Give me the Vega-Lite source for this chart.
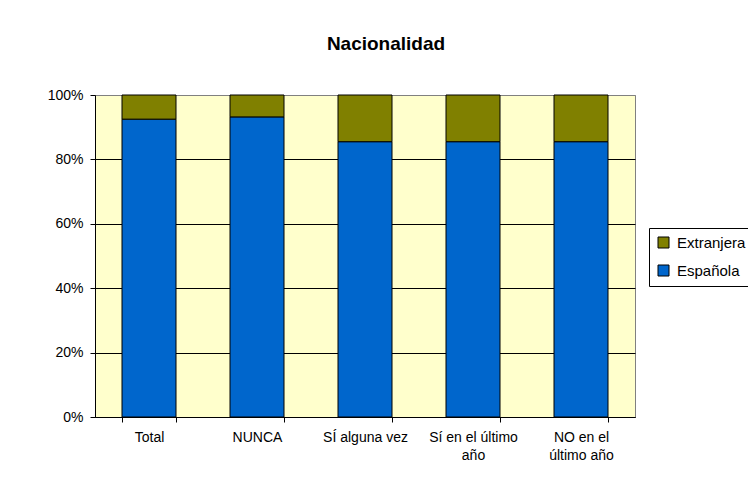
{
  "$schema": "https://vega.github.io/schema/vega-lite/v6.json",
  "width": 540,
  "height": 322,
  "autosize": {"type": "none"},
  "padding": {"left": 95, "top": 95, "right": 113, "bottom": 63},
  "background": "white",
  "title": {
    "text": "Nacionalidad",
    "font": "Liberation Sans",
    "fontSize": 19,
    "fontWeight": "bold",
    "color": "black",
    "anchor": "middle",
    "baseline": "alphabetic",
    "offset": 19,
    "dx": 21
  },
  "data": {
    "values": [
      {"grupo": "Total", "nacionalidad": "Española", "pct": 0.925},
      {"grupo": "Total", "nacionalidad": "Extranjera", "pct": 0.075},
      {"grupo": "NUNCA", "nacionalidad": "Española", "pct": 0.932},
      {"grupo": "NUNCA", "nacionalidad": "Extranjera", "pct": 0.068},
      {"grupo": "SÍ alguna vez", "nacionalidad": "Española", "pct": 0.855},
      {"grupo": "SÍ alguna vez", "nacionalidad": "Extranjera", "pct": 0.145},
      {"grupo": "Sí en el último año", "nacionalidad": "Española", "pct": 0.855},
      {"grupo": "Sí en el último año", "nacionalidad": "Extranjera", "pct": 0.145},
      {"grupo": "NO en el último año", "nacionalidad": "Española", "pct": 0.855},
      {"grupo": "NO en el último año", "nacionalidad": "Extranjera", "pct": 0.145}
    ]
  },
  "mark": {"type": "bar", "stroke": "black", "strokeWidth": 1},
  "encoding": {
    "x": {
      "field": "grupo",
      "type": "nominal",
      "sort": null,
      "scale": {"paddingInner": 0.5, "paddingOuter": 0.25},
      "axis": {
        "title": null,
        "labelAngle": 0,
        "tickBand": "extent",
        "labelExpr": "datum.value == 'Sí en el último año' ? ['Sí en el último', 'año'] : datum.value == 'NO en el último año' ? ['NO en el', 'último año'] : datum.value",
        "labelFont": "Liberation Sans",
        "labelFontSize": 14,
        "labelColor": "black",
        "labelLineHeight": 18,
        "labelPadding": 8,
        "labelBaseline": "top",
        "domainColor": "black",
        "tickColor": "black",
        "tickSize": 5,
        "grid": false
      }
    },
    "y": {
      "field": "pct",
      "type": "quantitative",
      "stack": "zero",
      "scale": {"domain": [0, 1], "nice": false},
      "axis": {
        "title": null,
        "format": ".0%",
        "values": [0, 0.2, 0.4, 0.6, 0.8, 1],
        "labelFont": "Liberation Sans",
        "labelFontSize": 14,
        "labelColor": "black",
        "labelPadding": 7,
        "domainColor": "black",
        "tickColor": "black",
        "tickSize": 5,
        "grid": true,
        "gridColor": {"condition": {"test": "datum.value == 1", "value": "#808080"}, "value": "black"},
        "gridOpacity": 1
      }
    },
    "color": {
      "field": "nacionalidad",
      "type": "nominal",
      "scale": {"domain": ["Extranjera", "Española"], "range": ["#808000", "#0066CC"]},
      "legend": {
        "title": null,
        "orient": "none",
        "legendX": 554,
        "legendY": 133,
        "strokeColor": "black",
        "fillColor": "white",
        "padding": 7,
        "symbolType": "square",
        "symbolSize": 121,
        "symbolStrokeColor": "black",
        "symbolStrokeWidth": 1,
        "symbolOpacity": 1,
        "labelFont": "Liberation Sans",
        "labelFontSize": 15,
        "labelColor": "black",
        "rowPadding": 12,
        "labelOffset": 6
      }
    },
    "order": {"field": "nacionalidad", "sort": "ascending"}
  },
  "config": {
    "view": {"stroke": "#808080", "fill": "#FFFFCC"}
  }
}
